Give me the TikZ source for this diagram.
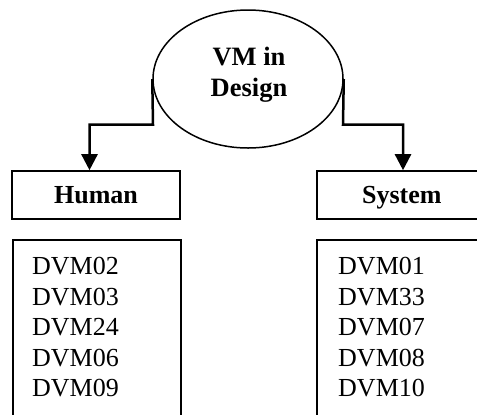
\documentclass[tikz,border=0pt]{standalone}
\usepackage{fontspec}
\setmainfont{Liberation Serif}
\usetikzlibrary{shapes.geometric,arrows.meta}

\tikzset{
  topic/.style={ellipse, draw, line width=1.5bp, minimum width=190bp,
    minimum height=138bp, inner sep=0pt},
  topictext/.style={align=center, inner sep=0pt,
    font=\fontsize{26.5bp}{31bp}\selectfont\bfseries},
  headbox/.style={rectangle, draw, line width=1.6bp, minimum height=48bp,
    inner sep=0pt, text depth=0pt, font=\fontsize{26bp}{30bp}\selectfont\bfseries},
  listbox/.style={rectangle, draw, line width=1.6bp, inner sep=0pt},
  listtext/.style={align=left, inner sep=0pt,
    font=\fontsize{26bp}{30.5bp}\selectfont},
  link/.style={line width=2.5bp, -{Triangle[width=16bp,length=16bp]}},
}

\begin{document}
\begin{tikzpicture}[x=1bp, y=-1bp]
  \useasboundingbox (0,0) rectangle (477,414);

  % central topic
  \node[topic] (ell) at (248,79) {};
  \node[topictext] (elltxt) at (249,75) {VM in\\Design};

  % category headers (the right one runs past the page edge)
  \node[headbox, minimum width=168bp] (human) at (96,195) {Human};
  \node[headbox, minimum width=170bp, anchor=west] (system) at (316,195) {System};

  % item lists (both run below the page edge)
  \node[listbox, minimum width=168bp, minimum height=200bp, anchor=north west]
    (humanlist) at (12,239) {};
  \node[listbox, minimum width=180bp, minimum height=200bp, anchor=north west]
    (systemlist) at (316,239) {};
  \node[listtext, anchor=north west] (humanitems) at (32,257.4)
    {DVM02\\DVM03\\DVM24\\DVM06\\DVM09};
  \node[listtext, anchor=north west] (systemitems) at (338,257.4)
    {DVM01\\DVM33\\DVM07\\DVM08\\DVM10};

  % connectors from the topic to the headers
  \coordinate (lbend) at (153,124.5);
  \coordinate (ltip) at (89.5,0);
  \coordinate (rbend) at (343,124.5);
  \coordinate (rtip) at (403,0);
  \draw[link] (ell.west) -- (lbend) -| (ltip |- human.north);
  \draw[link] (ell.east) -- (rbend) -| (rtip |- system.north);
\end{tikzpicture}
\end{document}
